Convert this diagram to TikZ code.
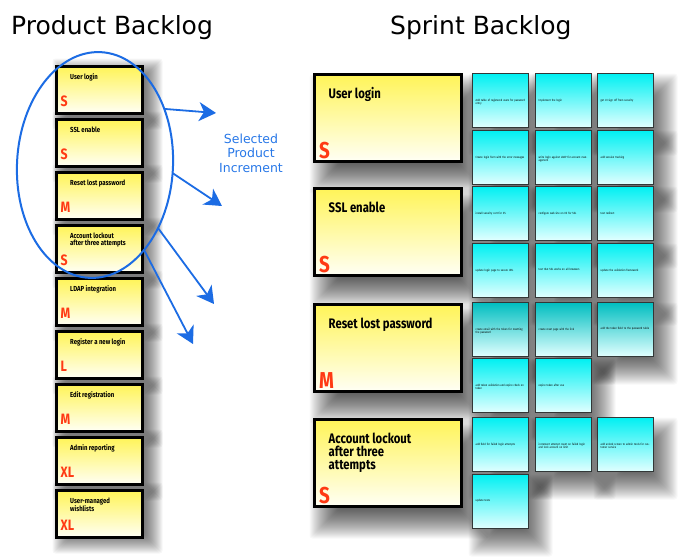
\documentclass[tikz,border=0pt]{standalone}
\usepackage{fontspec}
\setmainfont{DejaVu Sans}
\newfontfamily\cardfont[FakeStretch=0.82]{Fira Sans}
\usetikzlibrary{shapes.geometric,arrows.meta,calc}
\pgfdeclarelayer{base}
\pgfdeclarelayer{shadowlayer}
\pgfsetlayers{base,shadowlayer,main}
\definecolor{pbblue}{RGB}{28,108,228}
\definecolor{lblblue}{RGB}{40,120,232}
\definecolor{sizered}{RGB}{255,58,20}
\definecolor{ytop}{RGB}{255,244,88}
\definecolor{ybot}{RGB}{255,255,245}
\definecolor{ctop}{RGB}{0,240,242}
\definecolor{cbot}{RGB}{226,255,255}
\definecolor{ctopdark}{RGB}{0,190,192}
\newcommand\tcard[5][]{%
  \node[taskcard,#1] (#2) at (#3+28.5,#4+27.5) {};
  \node[tasktext] (#2-t) at ($(#2.north west)+(3,25)$) {#5};
}
% soft shadow: node, dx, dy, spread, opacity per layer
\newcommand\castshadow[5]{%
  \foreach \k in {-#4,...,#4}{%
    \fill[black, opacity=#5, rounded corners=3pt]
      ($(#1.north west)+(#2-\k,#3-\k)$) rectangle ($(#1.south east)+(#2+\k,#3+\k)$);
  }%
}
\begin{document}
\begin{tikzpicture}[x=1pt,y=-1pt,
  pcard/.style={draw=black, line width=3pt, outer sep=0pt, inner sep=0pt,
    top color=ytop, bottom color=ybot,
    minimum width=86pt, minimum height=47pt},
  bcard/.style={pcard, minimum width=147pt, minimum height=87pt},
  taskcard/.style={draw={rgb,255:red,50;green,55;blue,55}, line width=1.3pt, outer sep=0pt, inner sep=0pt,
    top color=ctop, bottom color=cbot,
    minimum width=56pt, minimum height=54pt},
  ptitle/.style={anchor=north west, inner sep=0pt, font=\cardfont\bfseries\fontsize{7.3}{7.3}\selectfont, align=left},
  btitle/.style={anchor=north west, inner sep=0pt, font=\cardfont\bfseries\fontsize{13.8}{13.3}\selectfont, align=left},
  psize/.style={anchor=base west, inner sep=0pt, text=sizered, font=\cardfont\bfseries\fontsize{15}{15}\selectfont},
  bsize/.style={anchor=base west, inner sep=0pt, text=sizered, font=\cardfont\bfseries\fontsize{23}{23}\selectfont},
  tasktext/.style={anchor=north west, inner sep=0pt, text width=50pt, align=left,
    font=\cardfont\fontsize{3}{3.4}\selectfont},
  heading/.style={anchor=base west, inner sep=0pt, font=\fontsize{25}{25}\selectfont},
  selarrow/.style={draw=pbblue, line width=1.8pt, -{Stealth[length=17pt,width=19pt,inset=5pt]}}
]
\begin{pgfonlayer}{base}
\path[use as bounding box, fill=white] (0,0) rectangle (684,555);
\end{pgfonlayer}

\node[heading] (hpb) at (11,35) {Product Backlog};
\node[heading] (hsb) at (390,35) {Sprint Backlog};

% Product backlog cards
\foreach \t/\s [count=\i from 0] in {
  {User login}/S, {SSL enable}/S, {Reset lost password}/M,
  {Account lockout\\after three attempts}/S, {LDAP integration}/M,
  {Register a new login}/L, {Edit registration}/M, {Admin reporting}/XL,
  {User-managed\\wishlists}/XL}{
  \node[pcard] (pb\i) at (99.5,90+53*\i) {};
  \node[ptitle] (pb\i-t) at ($(pb\i.north west)+(13.5,7)$) {\t};
  \node[psize] (pb\i-s) at ($(pb\i.south west)+(4,-7)$) {\s};
  \begin{pgfonlayer}{shadowlayer}
    \castshadow{pb\i}{8}{4}{12}{0.035}
  \end{pgfonlayer}
}

% Sprint backlog stories
\foreach \t/\s/\y [count=\i from 1] in {
  {User login}/S/118, {SSL enable}/S/232, {Reset lost password}/M/348,
  {Account lockout\\after three\\attempts}/S/463}{
  \node[bcard] (sb\i) at (388,\y) {};
  \node[btitle] (sb\i-t) at ($(sb\i.north west)+(14,13)$) {\t};
  \node[bsize] (sb\i-s) at ($(sb\i.south west)+(4.5,-3.5)$) {\s};
  \begin{pgfonlayer}{shadowlayer}
    \castshadow{sb\i}{11}{16}{16}{0.028}
  \end{pgfonlayer}
}

% Tasks: User login
\tcard{a1}{472}{73}{Add table of registered users for password entry}
\tcard{a2}{535}{73}{Implement the login}
\tcard{a3}{597}{73}{get UI sign off from security}
\tcard{a4}{472}{130}{Create login form with the error messages}
\tcard{a5}{535}{130}{write login against LDAP for account management}
\tcard{a6}{597}{130}{add session tracking}
% Tasks: SSL enable
\tcard{b1}{472}{186}{install security cert for IIS}
\tcard{b2}{535}{186}{configure web site on IIS for SSL}
\tcard{b3}{597}{186}{test redirect}
\tcard{b4}{472}{243}{update login page to secure URL}
\tcard{b5}{535}{243}{test that SSL works on all browsers}
\tcard{b6}{597}{243}{update the validation framework}
% Tasks: Reset lost password
\tcard[top color=ctopdark]{c1}{472}{302}{create email with the token for resetting the password}
\tcard[top color=ctopdark]{c2}{535}{302}{create reset page with the link}
\tcard[top color=ctopdark]{c3}{597}{302}{add the token field to the password table}
\tcard{c4}{472}{358}{add token validation and expire check on token}
\tcard{c5}{535}{358}{expire token after use}
% Tasks: Account lockout
\tcard{d1}{472}{417}{add field for failed login attempts}
\tcard{d2}{535}{417}{increment attempt count on failed login and lock account on limit}
\tcard{d3}{597}{417}{add unlock screen to admin tools for customer service}
\tcard{d4}{472}{474}{update tests}

\begin{pgfonlayer}{shadowlayer}
\foreach \n in {a1,a2,a3,a4,a5,a6,b1,b2,b3,b4,b5,b6,c1,c2,c3,c4,c5,d1,d2,d3,d4}{
  \castshadow{\n}{10}{14}{14}{0.026}
}
\end{pgfonlayer}

% Selection ellipse and arrows
\node[draw=pbblue, line width=2pt, ellipse, minimum width=156pt, minimum height=226pt,
  inner sep=0pt, outer sep=0pt, rotate=-3] (sel) at (95,165) {};

\coordinate (t1) at (216,113);
\coordinate (t2) at (222,206);
\coordinate (t3) at (214,304);
\coordinate (t4) at (193,344);
\draw[selarrow] (sel.42) -- (t1);
\draw[selarrow] (sel.-3) -- (t2);
\draw[selarrow] (sel.-42) -- (t3);
\draw[selarrow] (sel.-57) -- (t4);

\node[align=center, text=lblblue, inner sep=0pt, font=\fontsize{12.5}{14.5}\selectfont]
  (inc) at (251,153) {Selected\\Product\\Increment};
\end{tikzpicture}
\end{document}
